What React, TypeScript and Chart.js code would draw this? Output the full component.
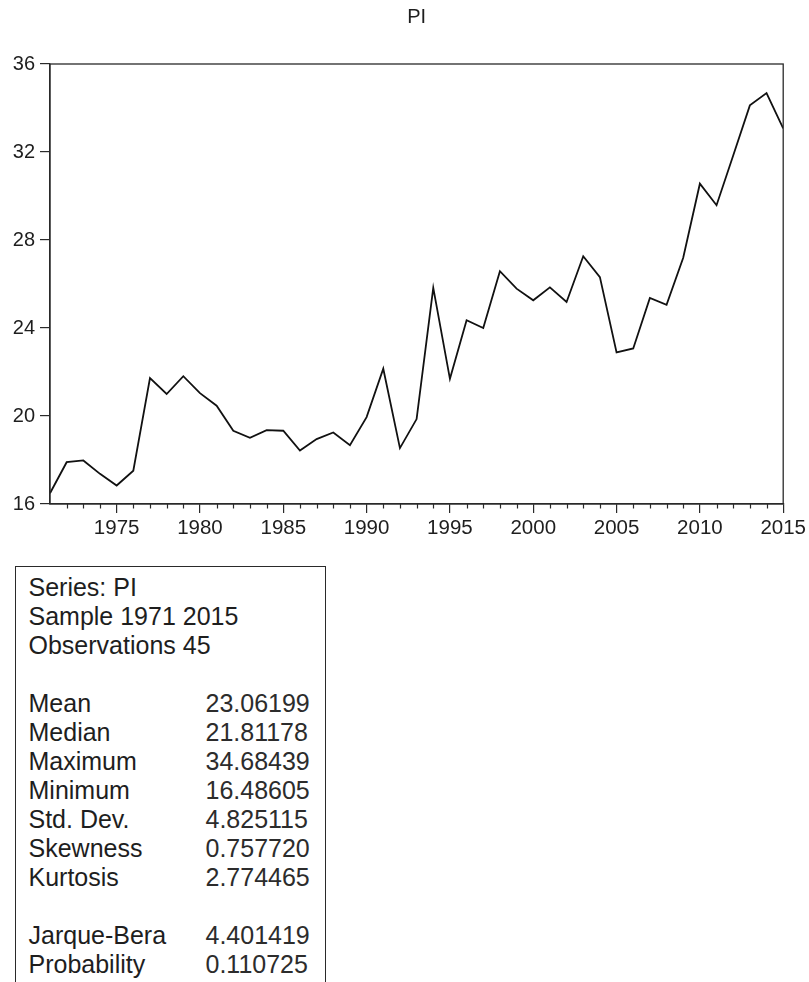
import React, { useEffect, useRef } from "react";
import { Chart, registerables } from "chart.js";

Chart.register(...registerables);

const years = [
  1971, 1972, 1973, 1974, 1975, 1976, 1977, 1978, 1979, 1980,
  1981, 1982, 1983, 1984, 1985, 1986, 1987, 1988, 1989, 1990,
  1991, 1992, 1993, 1994, 1995, 1996, 1997, 1998, 1999, 2000,
  2001, 2002, 2003, 2004, 2005, 2006, 2007, 2008, 2009, 2010,
  2011, 2012, 2013, 2014, 2015,
];

const piValues = [
  16.49, 17.9, 17.98, 17.37, 16.84, 17.51, 21.72, 21.0, 21.81, 21.04,
  20.47, 19.33, 19.01, 19.36, 19.33, 18.43, 18.95, 19.25, 18.67, 19.95,
  22.15, 18.54, 19.86, 25.82, 21.69, 24.35, 24.0, 26.58, 25.79, 25.26,
  25.85, 25.18, 27.26, 26.31, 22.89, 23.07, 25.37, 25.05, 27.19, 30.56,
  29.58, 31.84, 34.12, 34.68, 33.07,
];

const xTickLabels = [1975, 1980, 1985, 1990, 1995, 2000, 2005, 2010, 2015];
const yTickLabels = [16, 20, 24, 28, 32, 36];

const headerLines = ["Series: PI", "Sample 1971 2015", "Observations 45"];
const statLabels1 = ["Mean", "Median", "Maximum", "Minimum", "Std. Dev.", "Skewness", "Kurtosis"];
const statValues1 = ["23.06199", "21.81178", "34.68439", "16.48605", "4.825115", "0.757720", "2.774465"];
const statLabels2 = ["Jarque-Bera", "Probability"];
const statValues2 = ["4.401419", "0.110725"];

const FONT = "'Liberation Sans', Arial, Helvetica, sans-serif";
const INK = "#1e1e1e";

const framePlugin = {
  id: "frameAndMinor",
  afterDraw(chart: any) {
    const { ctx, chartArea } = chart;
    const xs = chart.scales.x;
    ctx.save();
    ctx.strokeStyle = "#2a2a2a";
    ctx.lineWidth = 1.3;
    ctx.strokeRect(
      chartArea.left,
      chartArea.top,
      chartArea.right - chartArea.left,
      chartArea.bottom - chartArea.top
    );
    ctx.lineWidth = 1.2;
    ctx.beginPath();
    years.forEach((yr) => {
      if (yr % 5 !== 0 && yr > years[0]) {
        const px = Math.round(xs.getPixelForValue(yr)) + 0.5;
        ctx.moveTo(px, chartArea.bottom);
        ctx.lineTo(px, chartArea.bottom + 4.5);
      }
    });
    ctx.stroke();
    ctx.restore();
  },
};

function ChartCanvas() {
  const ref = useRef<HTMLCanvasElement | null>(null);
  useEffect(() => {
    if (!ref.current) return;
    const chart = new Chart(ref.current, {
      type: "line",
      data: {
        datasets: [
          {
            data: years.map((yr, i) => ({ x: yr, y: piValues[i] })),
            borderColor: "#111",
            borderWidth: 1.8,
            pointRadius: 0,
            tension: 0,
            fill: false,
          },
        ],
      },
      options: {
        animation: false,
        responsive: true,
        maintainAspectRatio: false,
        layout: { padding: { left: 0, right: 23, top: 0, bottom: 16 } },
        plugins: {
          legend: { display: false },
          tooltip: { enabled: false },
          title: {
            display: true,
            fullSize: false,
            text: "PI",
            color: INK,
            font: { family: FONT, size: 20, weight: "normal" },
            padding: { top: 5, bottom: 35 },
          },
        },
        scales: {
          x: {
            type: "linear",
            min: years[0],
            max: years[years.length - 1],
            afterBuildTicks: (scale: any) => {
              scale.ticks = xTickLabels.map((v) => ({ value: v }));
            },
            afterFit: (scale: any) => {
              scale.height = 40;
            },
            grid: {
              drawOnChartArea: false,
              drawTicks: true,
              tickLength: 9,
              color: "#2a2a2a",
              lineWidth: 1.2,
            },
            border: { display: true, color: "#2a2a2a", width: 1.3 },
            ticks: {
              color: INK,
              font: { family: FONT, size: 20.5 },
              padding: 3,
              maxRotation: 0,
              autoSkip: false,
              callback: (v: any) => String(v),
            },
          },
          y: {
            type: "linear",
            min: yTickLabels[0],
            max: yTickLabels[yTickLabels.length - 1],
            afterBuildTicks: (scale: any) => {
              scale.ticks = yTickLabels.map((v) => ({ value: v }));
            },
            afterFit: (scale: any) => {
              scale.width = 50;
            },
            grid: {
              drawOnChartArea: false,
              drawTicks: true,
              tickLength: 10,
              color: "#2a2a2a",
              lineWidth: 1.2,
            },
            border: { display: true, color: "#2a2a2a", width: 1.3 },
            ticks: {
              color: INK,
              font: { family: FONT, size: 20 },
              padding: 5,
              callback: (v: any) => String(v),
            },
          },
        },
      },
      plugins: [framePlugin],
    });
    return () => chart.destroy();
  }, []);
  return (
    <div style={{ position: "absolute", left: 0, top: 0, width: 809, height: 560 }}>
      <canvas ref={ref} />
    </div>
  );
}

function Row({ label, value }: { label: string; value?: string }) {
  return (
    <div style={{ display: "flex", height: 29, whiteSpace: "nowrap" }}>
      <span style={{ width: 177, display: "inline-block" }}>{label}</span>
      {value !== undefined && <span style={{ color: "#2c2c2c" }}>{value}</span>}
    </div>
  );
}

export default function App() {
  return (
    <div
      style={{
        position: "absolute",
        left: 0,
        top: 0,
        width: 809,
        height: 982,
        background: "#fff",
        overflow: "hidden",
      }}
    >
      <ChartCanvas />
      <div
        style={{
          position: "absolute",
          left: 15,
          top: 566,
          width: 311,
          height: 416,
          boxSizing: "border-box",
          borderLeft: "1.5px solid #2a2a2a",
          borderTop: "1.5px solid #2a2a2a",
          borderRight: "1.5px solid #2a2a2a",
          paddingTop: 6,
          paddingLeft: 12.5,
          fontFamily: FONT,
          fontSize: 25,
          lineHeight: "29px",
          color: INK,
        }}
      >
        {headerLines.map((t) => (
          <Row key={t} label={t} />
        ))}
        <Row label="" />
        {statLabels1.map((l, i) => (
          <Row key={l} label={l} value={statValues1[i]} />
        ))}
        <Row label="" />
        {statLabels2.map((l, i) => (
          <Row key={l} label={l} value={statValues2[i]} />
        ))}
      </div>
    </div>
  );
}
